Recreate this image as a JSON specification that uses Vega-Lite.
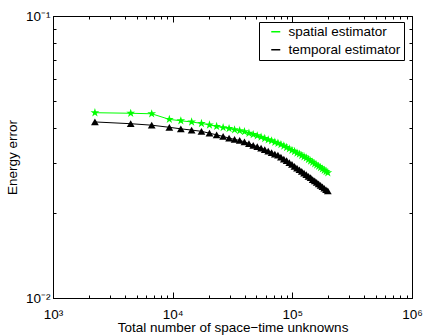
{
  "$schema": "https://vega.github.io/schema/vega-lite/v6.json",
  "width": 359,
  "height": 282,
  "autosize": {"type": "none"},
  "padding": {"left": 53, "top": 16, "right": 11, "bottom": 37},
  "background": "white",
  "config": {
    "font": "Liberation Sans",
    "view": {"stroke": "black", "strokeWidth": 1},
    "axis": {
      "grid": false,
      "domainColor": "black",
      "tickColor": "black",
      "labelColor": "black",
      "titleColor": "black",
      "labelFont": "Liberation Sans",
      "titleFont": "Liberation Sans",
      "labelFontSize": 13.5,
      "titleFontSize": 13.5,
      "titleFontWeight": "normal",
      "labelFlush": false,
      "labelOverlap": false
    },
    "legend": {
      "orient": "none", "legendX": 206, "legendY": 6, "title": null,
      "strokeColor": "black", "fillColor": "white", "padding": 3,
      "labelFontSize": 13.5, "labelColor": "black", "labelFont": "Liberation Sans",
      "symbolSize": 81, "rowPadding": 3, "symbolOffset": 7, "labelOffset": 6
    }
  },
  "data": {
    "values": [
      {"n": 2240, "e": 0.0454, "s": "spatial estimator"},
      {"n": 4460, "e": 0.0452, "s": "spatial estimator"},
      {"n": 6680, "e": 0.0450, "s": "spatial estimator"},
      {"n": 9380, "e": 0.0430, "s": "spatial estimator"},
      {"n": 11700, "e": 0.0425, "s": "spatial estimator"},
      {"n": 14400, "e": 0.0421, "s": "spatial estimator"},
      {"n": 17400, "e": 0.0416, "s": "spatial estimator"},
      {"n": 20300, "e": 0.0411, "s": "spatial estimator"},
      {"n": 23300, "e": 0.0406, "s": "spatial estimator"},
      {"n": 26400, "e": 0.0402, "s": "spatial estimator"},
      {"n": 29600, "e": 0.0399, "s": "spatial estimator"},
      {"n": 32900, "e": 0.0395, "s": "spatial estimator"},
      {"n": 36300, "e": 0.0392, "s": "spatial estimator"},
      {"n": 39800, "e": 0.0389, "s": "spatial estimator"},
      {"n": 43400, "e": 0.0384, "s": "spatial estimator"},
      {"n": 47100, "e": 0.0380, "s": "spatial estimator"},
      {"n": 50900, "e": 0.0376, "s": "spatial estimator"},
      {"n": 54800, "e": 0.0372, "s": "spatial estimator"},
      {"n": 58800, "e": 0.0368, "s": "spatial estimator"},
      {"n": 62900, "e": 0.0364, "s": "spatial estimator"},
      {"n": 67100, "e": 0.0361, "s": "spatial estimator"},
      {"n": 71400, "e": 0.0357, "s": "spatial estimator"},
      {"n": 75800, "e": 0.0354, "s": "spatial estimator"},
      {"n": 80300, "e": 0.0350, "s": "spatial estimator"},
      {"n": 84900, "e": 0.0346, "s": "spatial estimator"},
      {"n": 89600, "e": 0.0342, "s": "spatial estimator"},
      {"n": 94400, "e": 0.0338, "s": "spatial estimator"},
      {"n": 99300, "e": 0.0334, "s": "spatial estimator"},
      {"n": 104300, "e": 0.0331, "s": "spatial estimator"},
      {"n": 109400, "e": 0.0327, "s": "spatial estimator"},
      {"n": 114600, "e": 0.0324, "s": "spatial estimator"},
      {"n": 119900, "e": 0.0320, "s": "spatial estimator"},
      {"n": 125300, "e": 0.0317, "s": "spatial estimator"},
      {"n": 130800, "e": 0.0314, "s": "spatial estimator"},
      {"n": 136400, "e": 0.0310, "s": "spatial estimator"},
      {"n": 142100, "e": 0.0306, "s": "spatial estimator"},
      {"n": 147900, "e": 0.0303, "s": "spatial estimator"},
      {"n": 153800, "e": 0.0299, "s": "spatial estimator"},
      {"n": 159800, "e": 0.0296, "s": "spatial estimator"},
      {"n": 165900, "e": 0.0293, "s": "spatial estimator"},
      {"n": 172100, "e": 0.0290, "s": "spatial estimator"},
      {"n": 178400, "e": 0.0287, "s": "spatial estimator"},
      {"n": 184800, "e": 0.0284, "s": "spatial estimator"},
      {"n": 191300, "e": 0.0281, "s": "spatial estimator"},
      {"n": 197900, "e": 0.0278, "s": "spatial estimator"},
      {"n": 2240, "e": 0.0421, "s": "temporal estimator"},
      {"n": 4460, "e": 0.0415, "s": "temporal estimator"},
      {"n": 6680, "e": 0.0410, "s": "temporal estimator"},
      {"n": 9380, "e": 0.0403, "s": "temporal estimator"},
      {"n": 11700, "e": 0.0398, "s": "temporal estimator"},
      {"n": 14400, "e": 0.0394, "s": "temporal estimator"},
      {"n": 17400, "e": 0.0390, "s": "temporal estimator"},
      {"n": 20300, "e": 0.0384, "s": "temporal estimator"},
      {"n": 23300, "e": 0.0379, "s": "temporal estimator"},
      {"n": 26400, "e": 0.0374, "s": "temporal estimator"},
      {"n": 29600, "e": 0.0369, "s": "temporal estimator"},
      {"n": 32900, "e": 0.0365, "s": "temporal estimator"},
      {"n": 36300, "e": 0.0362, "s": "temporal estimator"},
      {"n": 39800, "e": 0.0358, "s": "temporal estimator"},
      {"n": 43400, "e": 0.0353, "s": "temporal estimator"},
      {"n": 47100, "e": 0.0348, "s": "temporal estimator"},
      {"n": 50900, "e": 0.0344, "s": "temporal estimator"},
      {"n": 54800, "e": 0.0340, "s": "temporal estimator"},
      {"n": 58800, "e": 0.0336, "s": "temporal estimator"},
      {"n": 62900, "e": 0.0332, "s": "temporal estimator"},
      {"n": 67100, "e": 0.0328, "s": "temporal estimator"},
      {"n": 71400, "e": 0.0324, "s": "temporal estimator"},
      {"n": 75800, "e": 0.0321, "s": "temporal estimator"},
      {"n": 80300, "e": 0.0316, "s": "temporal estimator"},
      {"n": 84900, "e": 0.0311, "s": "temporal estimator"},
      {"n": 89600, "e": 0.0307, "s": "temporal estimator"},
      {"n": 94400, "e": 0.0302, "s": "temporal estimator"},
      {"n": 99300, "e": 0.0298, "s": "temporal estimator"},
      {"n": 104300, "e": 0.0293, "s": "temporal estimator"},
      {"n": 109400, "e": 0.0289, "s": "temporal estimator"},
      {"n": 114600, "e": 0.0285, "s": "temporal estimator"},
      {"n": 119900, "e": 0.0281, "s": "temporal estimator"},
      {"n": 125300, "e": 0.0277, "s": "temporal estimator"},
      {"n": 130800, "e": 0.0274, "s": "temporal estimator"},
      {"n": 136400, "e": 0.0270, "s": "temporal estimator"},
      {"n": 142100, "e": 0.0267, "s": "temporal estimator"},
      {"n": 147900, "e": 0.0263, "s": "temporal estimator"},
      {"n": 153800, "e": 0.0260, "s": "temporal estimator"},
      {"n": 159800, "e": 0.0257, "s": "temporal estimator"},
      {"n": 165900, "e": 0.0254, "s": "temporal estimator"},
      {"n": 172100, "e": 0.0251, "s": "temporal estimator"},
      {"n": 178400, "e": 0.0248, "s": "temporal estimator"},
      {"n": 184800, "e": 0.0245, "s": "temporal estimator"},
      {"n": 191300, "e": 0.0242, "s": "temporal estimator"},
      {"n": 197900, "e": 0.0240, "s": "temporal estimator"}
    ]
  },
  "layer": [
    {
      "mark": {"type": "line", "strokeWidth": 1},
      "encoding": {
        "x": {
          "field": "n", "type": "quantitative",
          "scale": {"type": "log", "domain": [1000, 1000000], "nice": false},
          "axis": {
            "orient": "bottom",
            "title": "Total number of space−time unknowns",
            "values": [1000,2000,3000,4000,5000,6000,7000,8000,9000,10000,20000,30000,40000,50000,60000,70000,80000,90000,100000,200000,300000,400000,500000,600000,700000,800000,900000,1000000],
            "labelExpr": "datum.value == 1000 ? '10³' : datum.value == 10000 ? '10⁴' : datum.value == 100000 ? '10⁵' : datum.value == 1000000 ? '10⁶' : ''",
            "tickSize": {"condition": {"test": "indexof([1000,10000,100000,1000000], datum.value) >= 0", "value": -6}, "value": -3},
            "labelPadding": 15,
            "titlePadding": -3
          }
        },
        "y": {
          "field": "e", "type": "quantitative",
          "scale": {"type": "log", "domain": [0.01, 0.1], "nice": false},
          "axis": {
            "orient": "left",
            "title": "Energy error",
            "values": [0.01,0.02,0.03,0.04,0.05,0.06,0.07,0.08,0.09,0.1],
            "labelExpr": "datum.value == 0.1 ? '10⁻¹' : datum.value == 0.01 ? '10⁻²' : ''",
            "tickSize": {"condition": {"test": "datum.value == 0.1 || datum.value == 0.01", "value": -6}, "value": -3},
            "labelPadding": 9,
            "titlePadding": 6
          }
        },
        "color": {
          "field": "s", "type": "nominal",
          "scale": {"domain": ["spatial estimator", "temporal estimator"], "range": ["#00ff00", "#000000"]}
        }
      }
    },
    {
      "transform": [{"filter": "datum.s == 'spatial estimator'"}],
      "mark": {"type": "point", "filled": true, "opacity": 1, "size": 85, "shape": "M0,-1L0.225,-0.309L0.951,-0.309L0.363,0.118L0.588,0.809L0,0.382L-0.588,0.809L-0.363,0.118L-0.951,-0.309L-0.225,-0.309Z"},
      "encoding": {
        "x": {
          "field": "n", "type": "quantitative",
          "axis": {
            "orient": "top", "title": null, "labels": false, "domain": false,
            "values": [1000,2000,3000,4000,5000,6000,7000,8000,9000,10000,20000,30000,40000,50000,60000,70000,80000,90000,100000,200000,300000,400000,500000,600000,700000,800000,900000,1000000],
            "tickSize": {"condition": {"test": "indexof([1000,10000,100000,1000000], datum.value) >= 0", "value": -6}, "value": -3}
          }
        },
        "y": {
          "field": "e", "type": "quantitative",
          "axis": {
            "orient": "right", "title": null, "labels": false, "domain": false,
            "values": [0.01,0.02,0.03,0.04,0.05,0.06,0.07,0.08,0.09,0.1],
            "tickSize": {"condition": {"test": "datum.value == 0.1 || datum.value == 0.01", "value": -6}, "value": -3}
          }
        },
        "color": {
          "field": "s", "type": "nominal",
          "legend": {
            "encode": {"symbols": {
              "shape": {"value": {"expr": "datum.value === 'spatial estimator' ? 'M-2.4,0H2.4M0,-1L0.225,-0.309L0.951,-0.309L0.363,0.118L0.588,0.809L0,0.382L-0.588,0.809L-0.363,0.118L-0.951,-0.309L-0.225,-0.309Z' : 'M-2.4,0H2.4M0,-0.95L0.9,0.6L-0.9,0.6Z'"}},
              "fill": {"value": {"expr": "datum.value === 'spatial estimator' ? '#00ff00' : '#000000'"}},
              "strokeWidth": {"value": 1},
              "size": {"value": 81}
            }}
          }
        }
      }
    },
    {
      "transform": [{"filter": "datum.s == 'temporal estimator'"}],
      "mark": {"type": "point", "filled": true, "opacity": 1, "size": 60, "shape": "triangle-up"},
      "encoding": {
        "x": {"field": "n", "type": "quantitative", "axis": null},
        "y": {"field": "e", "type": "quantitative", "axis": null},
        "color": {"field": "s", "type": "nominal"}
      }
    }
  ],
  "resolve": {"axis": {"x": "independent", "y": "independent"}}
}
